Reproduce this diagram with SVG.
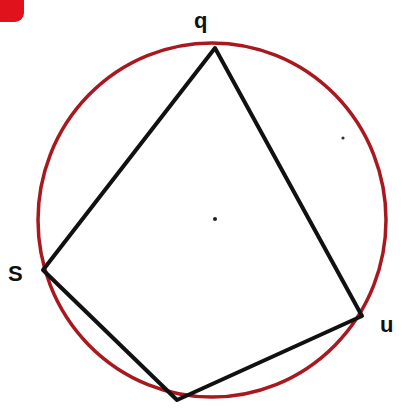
<svg xmlns="http://www.w3.org/2000/svg" width="407" height="410" viewBox="0 0 407 410">
<style>
.lbl{font-family:"Liberation Sans",Arial,sans-serif;font-size:22px;font-weight:bold;fill:#111}
.edge{stroke:#111;stroke-width:4;fill:none;stroke-linejoin:round;stroke-linecap:round}
</style>
<rect width="407" height="410" fill="#fff"/>
<rect x="-12" y="-12" width="36" height="34" rx="9" fill="#e0121c"/>
<g id="circle"><ellipse cx="212" cy="220" rx="174" ry="177" fill="none" stroke="#a8181e" stroke-width="3.5"/></g>
<g id="connectors">
<polygon class="edge" points="215,48 362,316 177,400 43,270"/>
</g>
<g id="center"><circle cx="215" cy="219" r="2" fill="#222"/></g>
<circle cx="343" cy="138" r="1.6" fill="#333"/>
<g id="nodeP"><text class="lbl" x="194" y="28">q</text></g>
<g id="nodeS"><text class="lbl" x="8" y="281">S</text></g>
<g id="nodeU"><text class="lbl" x="380" y="332">u</text></g>
</svg>
